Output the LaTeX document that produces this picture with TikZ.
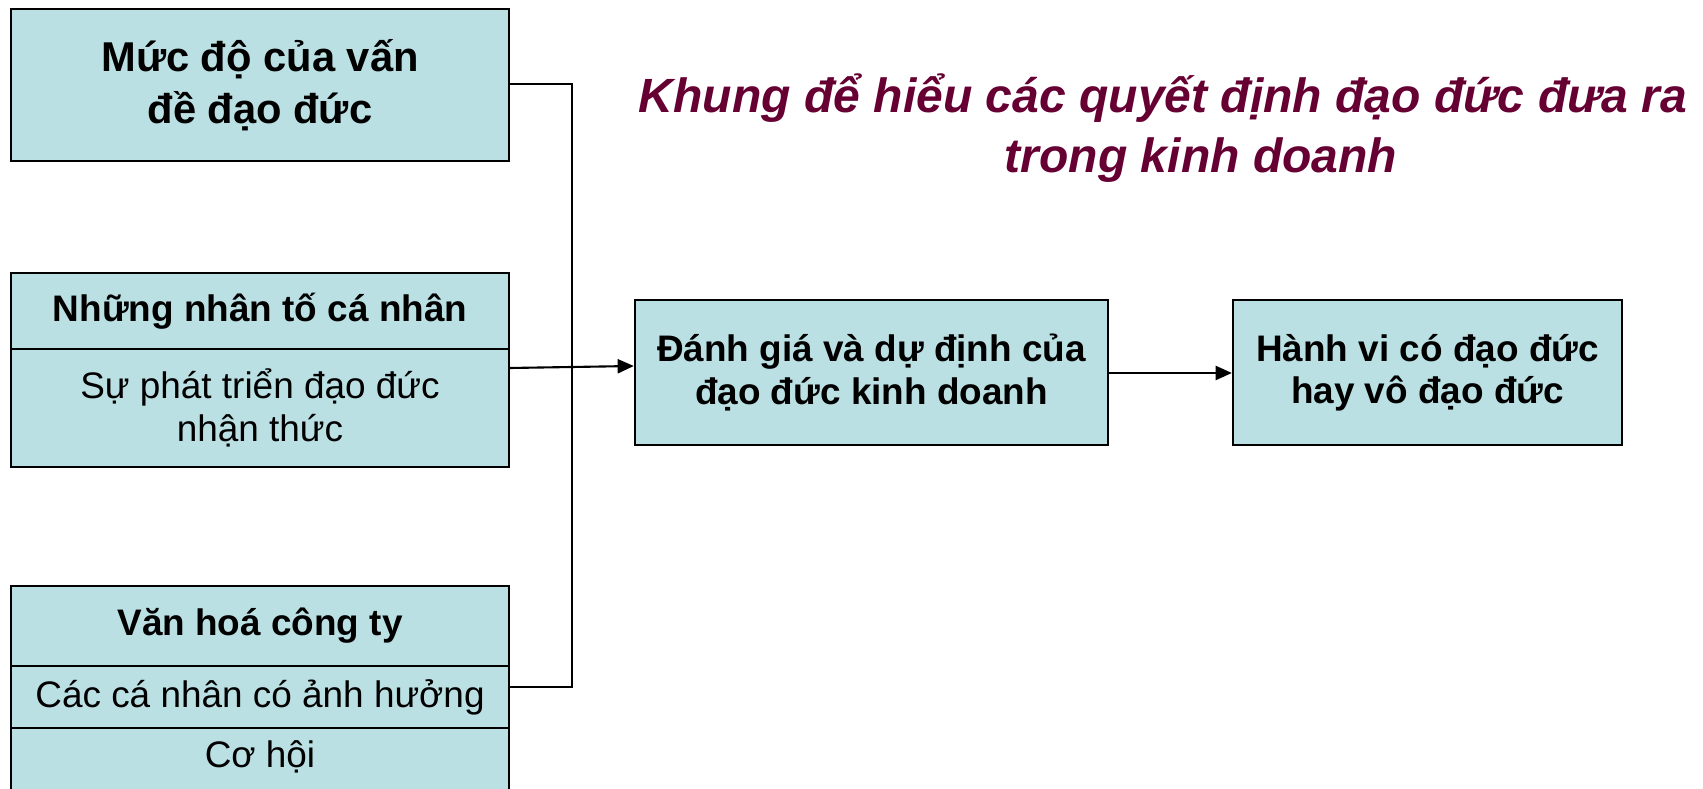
\documentclass[tikz,border=0pt]{standalone}
\usepackage{fontspec}
\setmainfont{Liberation Sans}
\usetikzlibrary{arrows.meta}
\definecolor{boxfill}{HTML}{BBE0E3}
\definecolor{titlecol}{HTML}{660033}
\tikzset{
  cell/.style={draw=black, line width=0.6pt, fill=boxfill, minimum width=4.98cm, inner sep=0pt, align=center, font=\fontsize{10.5}{12}\selectfont},
  bigcell/.style={cell, font=\fontsize{10.5}{12}\selectfont\bfseries},
  conn/.style={draw=black, line width=0.6pt},
  arr/.style={conn, -{Triangle[length=4.6pt,width=4pt]}},
}
\begin{document}
\begin{tikzpicture}[x=0.01cm,y=-0.01cm]
\useasboundingbox (0,0) rectangle (1703,789);
% left column
\node[bigcell, minimum height=1.52cm, font=\fontsize{11.85}{14.8}\selectfont\bfseries] (b1) at (260,85) {Mức độ của vấn\\đề đạo đức};
\node[bigcell, minimum height=0.76cm] (b2h) at (260,311) {Những nhân tố cá nhân};
\node[cell, minimum height=1.18cm] (b2b) at (260,408) {Sự phát triển đạo đức\\nhận thức};
\node[bigcell, minimum height=0.80cm] (b3h) at (260,626) {Văn hoá công ty};
\node[cell, minimum height=0.62cm] (b3m) at (260,697) {Các cá nhân có ảnh hưởng};
\node[cell, minimum height=0.74cm, text height=0pt, text depth=0pt] (b3b) at (260,765) {};
\node[align=center, inner sep=0pt, font=\fontsize{10.5}{12}\selectfont] (b3bt) at (260,757) {Cơ hội};
% middle and right
\node[bigcell, minimum width=4.73cm, minimum height=1.45cm] (eval) at (871.5,372.5) {Đánh giá và dự định của\\đạo đức kinh doanh};
\node[bigcell, minimum width=3.89cm, minimum height=1.45cm] (beh) at (1427.5,372.5) {Hành vi có đạo đức\\hay vô đạo đức};
% title
\node[align=center, inner sep=0pt, text=titlecol, font=\fontsize{13.66}{17}\selectfont\bfseries\itshape] (title) at (1163,128) {Khung để hiểu các quyết định đạo đức đưa ra\\\hspace*{0.76cm}trong kinh doanh};
% connectors
\coordinate (j) at (572,84);
\coordinate (k) at (572,687);
\draw[conn] (b1.east |- 0,84) -- (j) -- (k) -- (b3m.east |- 0,687);
\draw[arr] (b2b.east |- 0,368) -- (eval.west |- 0,366);
\draw[arr] (eval.east |- 0,373) -- (beh.west |- 0,373);
\end{tikzpicture}
\end{document}
